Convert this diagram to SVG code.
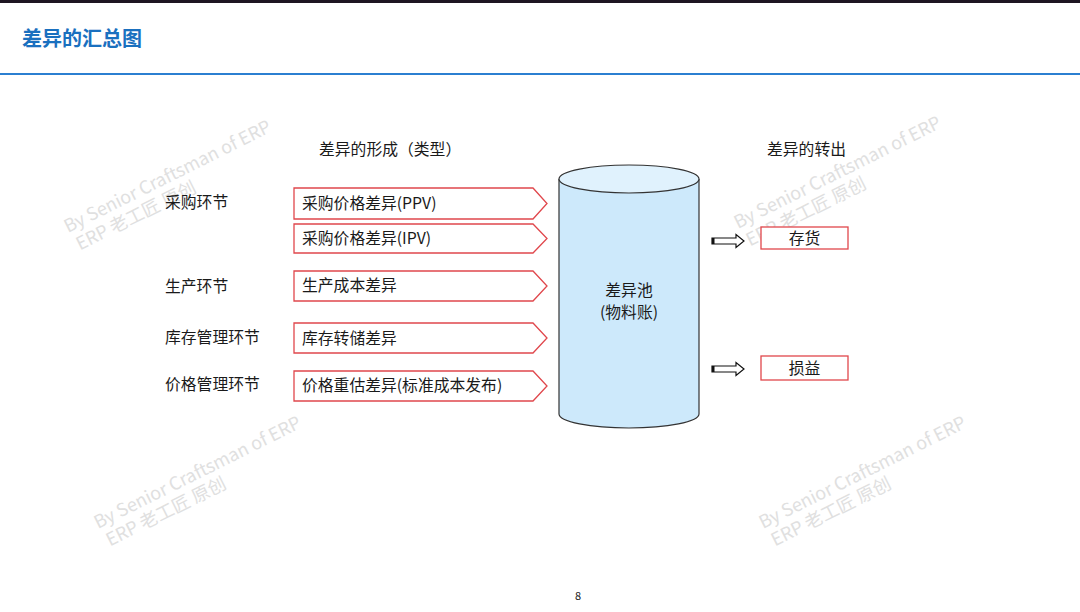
<svg xmlns="http://www.w3.org/2000/svg" width="1080" height="612" viewBox="0 0 1080 612">
<style>
text{font-family:"Noto Sans CJK SC","Noto Sans",sans-serif;fill:#1a1a1a}
.t{font-size:15.8px}
.lbl{font-size:15.8px}
.box{fill:#fff;stroke:#e0474c;stroke-width:1.3}
.wm{font-size:18px;fill:#e0e0e0}
.arr{fill:#fff;stroke:#111;stroke-width:1.2}
</style>
<rect x="0" y="0" width="1080" height="612" fill="#fff"/>
<rect x="0" y="0" width="1080" height="3" fill="#1e1622"/>
<text x="22" y="46" style="font-size:20px;font-weight:bold;fill:#1a70bf">差异的汇总图</text>
<rect x="0" y="73" width="1080" height="2" fill="#2b7fd1"/>

<g id="watermarks">
<g transform="translate(68,233) rotate(-26.5)"><text class="wm" x="0" y="0">By Senior Craftsman of ERP</text><text class="wm" x="3" y="21">ERP 老工匠 原创</text></g>
<g transform="translate(738,229) rotate(-26.5)"><text class="wm" x="0" y="0">By Senior Craftsman of ERP</text><text class="wm" x="3" y="21">ERP 老工匠 原创</text></g>
<g transform="translate(98,529) rotate(-26.5)"><text class="wm" x="0" y="0">By Senior Craftsman of ERP</text><text class="wm" x="3" y="21">ERP 老工匠 原创</text></g>
<g transform="translate(763,529) rotate(-26.5)"><text class="wm" x="0" y="0">By Senior Craftsman of ERP</text><text class="wm" x="3" y="21">ERP 老工匠 原创</text></g>
</g>

<text x="319" y="155" class="t">差异的形成（类型）</text>
<text x="767" y="155" class="t">差异的转出</text>

<g id="stages">
<text x="165" y="208" class="lbl">采购环节</text>
<text x="165" y="292" class="lbl">生产环节</text>
<text x="165" y="343" class="lbl">库存管理环节</text>
<text x="165" y="390" class="lbl">价格管理环节</text>
</g>

<g id="ppv"><path class="box" d="M294,188H533L547,203.5L533,219H294Z"/><text x="302" y="209" class="t">采购价格差异(PPV)</text></g>
<g id="ipv"><path class="box" d="M294,224H533L547,238.5L533,253H294Z"/><text x="302" y="244" class="t">采购价格差异(IPV)</text></g>
<g id="prod"><path class="box" d="M294,271H533L547,286L533,301H294Z"/><text x="302" y="291" class="t">生产成本差异</text></g>
<g id="inv"><path class="box" d="M294,323H533L547,338L533,353H294Z"/><text x="302" y="344" class="t">库存转储差异</text></g>
<g id="price"><path class="box" d="M294,371H533L547,386L533,401H294Z"/><text x="302" y="391" class="t">价格重估差异(标准成本发布)</text></g>

<g id="pool">
<path d="M559,179V414A70,14 0 0 0 699,414V179" fill="#cde9fb" stroke="#333" stroke-width="1.2"/>
<ellipse cx="629" cy="179" rx="70" ry="14" fill="#e0f2fd" stroke="#333" stroke-width="1.2"/>
<text x="629" y="296" class="t" text-anchor="middle">差异池</text>
<text x="629" y="318" class="t" text-anchor="middle">(物料账)</text>
</g>

<g id="connectors">
<path class="arr" d="M712,238H736V234.5L744,241L736,247.5V244H712Z"/>
<rect x="712" y="238" width="2.5" height="6" fill="#111"/>
<path class="arr" d="M712,366H736V362.5L744,369L736,375.5V372H712Z"/>
<rect x="712" y="366" width="2.5" height="6" fill="#111"/>
</g>

<g id="stock"><rect class="box" x="761" y="227" width="87" height="22"/><text x="804.5" y="244" class="t" text-anchor="middle">存货</text></g>
<g id="pl"><rect class="box" x="761" y="356" width="87" height="24"/><text x="804.5" y="374" class="t" text-anchor="middle">损益</text></g>

<text x="578" y="600" style="font-size:11px" text-anchor="middle">8</text>
</svg>
